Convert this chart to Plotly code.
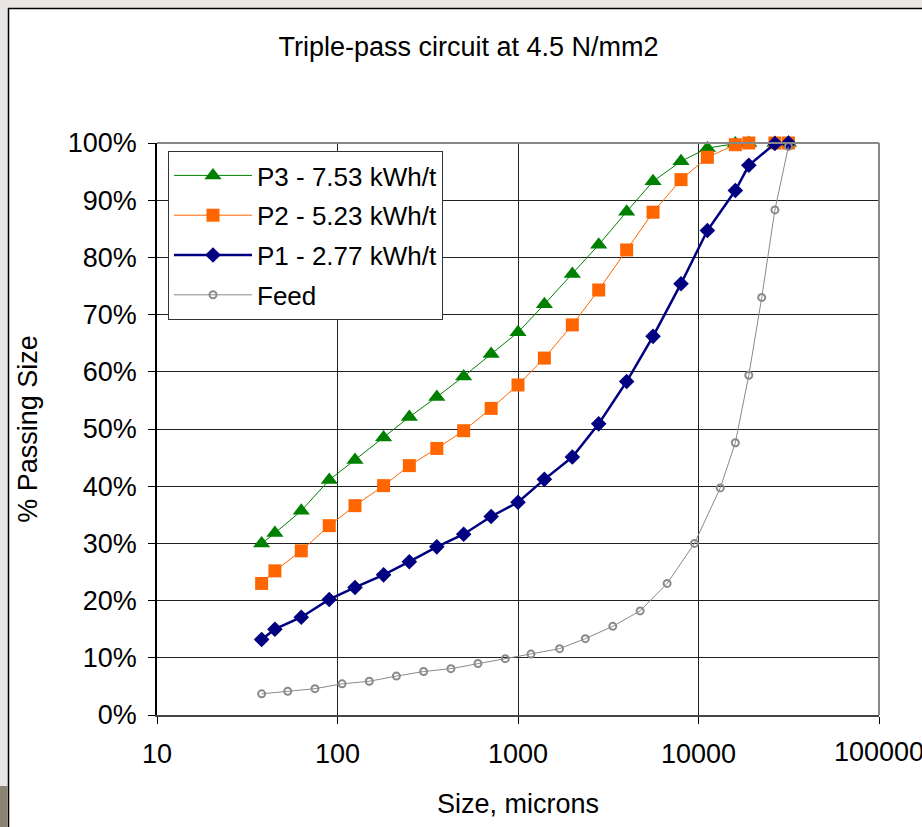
import plotly.graph_objects as go

# ---------------- data ----------------
sizes_prod = [38, 45, 63, 90, 125, 180, 250, 355, 500, 710, 1000, 1400, 2000, 2800,
              4000, 5600, 8000, 11200, 16000, 19000, 26500, 31500]
p3 = [30.0, 31.8, 35.7, 41.1, 44.6, 48.5, 52.1, 55.6, 59.2, 63.1, 66.9, 71.8, 77.1, 82.2,
      88.0, 93.3, 96.8, 99.1, 99.9, 100, 100, 100]
p2 = [23.0, 25.2, 28.7, 33.1, 36.6, 40.1, 43.6, 46.6, 49.7, 53.6, 57.7, 62.4, 68.2, 74.3,
      81.3, 87.9, 93.6, 97.5, 99.7, 100, 100, 100]
p1 = [13.2, 15.0, 17.1, 20.2, 22.3, 24.5, 26.8, 29.4, 31.6, 34.7, 37.2, 41.2, 45.1, 50.9,
      58.3, 66.2, 75.4, 84.7, 91.7, 96.1, 99.9, 100]
sizes_feed = [38, 53, 75, 106, 150, 212, 300, 425, 600, 850, 1180, 1700, 2360, 3350,
              4750, 6700, 9500, 13200, 16000, 19000, 22400, 26500, 31500]
feed = [3.7, 4.15, 4.6, 5.45, 5.9, 6.8, 7.6, 8.1, 9.0, 9.85, 10.65, 11.6, 13.35, 15.5,
        18.2, 23.0, 30.0, 39.7, 47.6, 59.4, 73.0, 88.3, 99.4]

names = ["P3 - 7.53 kWh/t", "P2 - 5.23 kWh/t", "P1 - 2.77 kWh/t", "Feed"]
x_ticks = [10, 100, 1000, 10000, 100000]
x_tick_labels = ["10", "100", "1000", "10000", "100000"]

FONT = "Liberation Sans, Arial, sans-serif"
W, H = 922, 827
L, R, T, B = 157, 879, 143, 715  # plot area pixels


def px_x(p):
    return (p - L) / (R - L)


def px_y(p):
    return (B - p) / (B - T)


fig = go.Figure()
fig.add_trace(go.Scatter(x=sizes_prod, y=p3, name=names[0], mode="lines+markers",
                         legendgroup="g1", cliponaxis=False,
                         line=dict(color="#008000", width=1),
                         marker=dict(symbol="triangle-up", size=15, color="#008000")))
fig.add_trace(go.Scatter(x=sizes_prod, y=p2, name=names[1], mode="lines+markers",
                         legendgroup="g2", cliponaxis=False,
                         line=dict(color="#ff6600", width=1),
                         marker=dict(symbol="square", size=13, color="#ff6600")))
fig.add_trace(go.Scatter(x=sizes_prod, y=p1, name=names[2], mode="lines+markers",
                         legendgroup="g3", cliponaxis=False,
                         line=dict(color="#000080", width=2.5),
                         marker=dict(symbol="diamond", size=12, color="#000080")))
fig.add_trace(go.Scatter(x=sizes_feed, y=feed, name=names[3], mode="lines+markers",
                         legendgroup="g4", cliponaxis=False,
                         line=dict(color="#8a8a8a", width=1),
                         marker=dict(symbol="circle-open", size=7, color="#8a8a8a",
                                     line=dict(width=2, color="#8a8a8a"))))

shapes = [
    # outer frame (white slide area with black border)
    dict(type="rect", xref="paper", yref="paper",
         x0=px_x(8.5), x1=px_x(940), y0=px_y(845), y1=px_y(8.5),
         fillcolor="white", line=dict(color="black", width=1.5), layer="below"),
    # brown block bottom-left
    dict(type="rect", xref="paper", yref="paper",
         x0=px_x(-2), x1=px_x(7.7), y0=px_y(840), y1=px_y(786),
         fillcolor="#8c8373", line=dict(width=0), layer="below"),
    # plot area top/right border
    dict(type="line", xref="paper", yref="paper", x0=0, x1=1, y0=1, y1=1,
         line=dict(color="#888888", width=2)),
    dict(type="line", xref="paper", yref="paper", x0=1, x1=1, y0=0, y1=1,
         line=dict(color="#888888", width=2)),
]

# the last tick label overflows the right edge in the original (clipped), so
# draw it as an annotation at its tick value
annotations = [
    dict(x=5, xref="x", y=px_y(752), yref="paper", text=x_tick_labels[-1],
         showarrow=False, xanchor="center", yanchor="middle",
         font=dict(family=FONT, size=27, color="black"))
]

fig.update_layout(
    width=W, height=H,
    margin=dict(l=L, r=W - R, t=T, b=H - B, pad=0, autoexpand=False),
    paper_bgcolor="#e8e7e5",
    plot_bgcolor="white",
    font=dict(family=FONT, size=27, color="black"),
    title=dict(text="Triple-pass circuit at 4.5 N/mm2", x=468.5 / W, xref="container",
               xanchor="center", y=1 - 47 / H, yref="container", yanchor="middle",
               font=dict(family=FONT, size=27, color="black")),
    showlegend=True,
    legend=dict(x=px_x(168), y=px_y(151), xanchor="left", yanchor="top",
                bgcolor="white", bordercolor="#333333", borderwidth=1,
                font=dict(family=FONT, size=26, color="black"),
                traceorder="grouped", tracegroupgap=3, itemwidth=78),
    shapes=shapes,
    annotations=annotations,
)

fig.update_xaxes(type="log", range=[1, 5], tickvals=x_ticks, ticktext=x_tick_labels,
                 automargin=False,
                 showgrid=True, gridcolor="#222222", gridwidth=1,
                 showline=True, linecolor="#444444", linewidth=2,
                 ticks="outside", ticklen=7, tickcolor="black", tickwidth=1,
                 tickfont=dict(family=FONT, size=27), ticklabelstandoff=7,
                 title=dict(text="Size, microns", font=dict(family=FONT, size=27), standoff=26),
                 zeroline=False)
fig.update_yaxes(range=[0, 100], dtick=10, ticksuffix="%",
                 automargin=False,
                 showgrid=True, gridcolor="#222222", gridwidth=1,
                 showline=True, linecolor="black", linewidth=1.5,
                 ticks="outside", ticklen=7, tickcolor="black", tickwidth=1,
                 tickfont=dict(family=FONT, size=27), ticklabelstandoff=6,
                 title=dict(text="% Passing Size", font=dict(family=FONT, size=27), standoff=22),
                 zeroline=False)

fig.write_html("out.html")
